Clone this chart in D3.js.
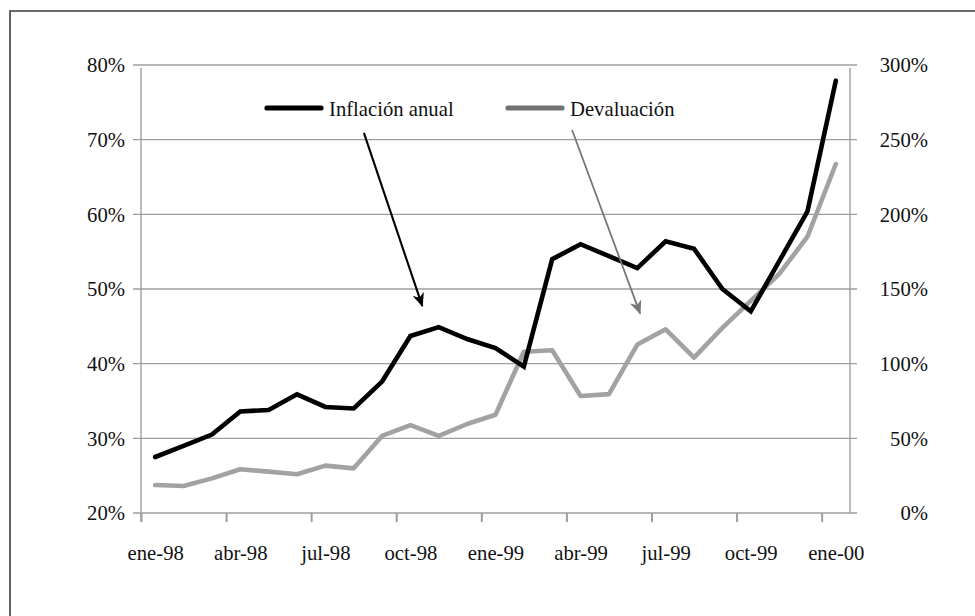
<!DOCTYPE html>
<html>
<head>
<meta charset="utf-8">
<script src="https://cdn.jsdelivr.net/npm/d3@7"></script>
<style>
  html, body { margin: 0; padding: 0; background: #fff; }
  svg { display: block; }
  text { font-family: "Liberation Serif", "Times New Roman", serif; fill: #111; }
</style>
</head>
<body>
<svg id="chart" width="975" height="616"></svg>
<script>
// ---- Data ----
const months = ["ene-98","feb-98","mar-98","abr-98","may-98","jun-98","jul-98","ago-98","sep-98","oct-98","nov-98","dic-98",
                "ene-99","feb-99","mar-99","abr-99","may-99","jun-99","jul-99","ago-99","sep-99","oct-99","nov-99","dic-99","ene-00"];
const inflacion = [27.5, 29.0, 30.5, 33.6, 33.8, 35.9, 34.2, 34.0, 37.6, 43.7, 44.9, 43.3, 42.1,
                   39.6, 54.0, 56.0, 54.4, 52.8, 56.4, 55.4, 50.0, 47.0, 53.7, 60.4, 77.9];
const devaluacion = [18.7, 18.1, 23.2, 29.3, 27.7, 25.9, 31.7, 29.9, 51.6, 58.9, 51.6, 59.6, 65.8,
                     108, 109, 78.4, 79.6, 112.8, 123, 104, 124, 142, 160, 185, 233.7];
const leftTicks = [20, 30, 40, 50, 60, 70, 80];
const rightTicks = [0, 50, 100, 150, 200, 250, 300];
const xLabelIdx = [0, 3, 6, 9, 12, 15, 18, 21, 24];
const seriesNames = ["Inflación anual", "Devaluación"];

// ---- Layout ----
const svg = d3.select("#chart");
const L = 141, R = 850, T = 65, B = 513;

const x = d3.scaleLinear().domain([0, months.length]).range([L, R]);
const yL = d3.scaleLinear().domain([20, 80]).range([B, T]);
const yR = d3.scaleLinear().domain([0, 300]).range([B, T]);

// frame
svg.append("path").attr("d", "M10,616 L10,11 L975,11")
  .attr("fill", "none").attr("stroke", "#3a3a3a").attr("stroke-width", 1.6);

const gridColor = "#9e9e9e";

// gridlines (with outer tick extension on both sides)
svg.append("g").selectAll("line").data(leftTicks).join("line")
  .attr("x1", L - 8).attr("x2", R + 7)
  .attr("y1", d => yL(d)).attr("y2", d => yL(d))
  .attr("stroke", gridColor).attr("stroke-width", 1.3);

// left axis line
svg.append("line").attr("x1", L).attr("x2", L).attr("y1", T + 3).attr("y2", B + 9)
  .attr("stroke", gridColor).attr("stroke-width", 1.4);
// right axis line
svg.append("line").attr("x1", R).attr("x2", R).attr("y1", T + 3).attr("y2", B)
  .attr("stroke", gridColor).attr("stroke-width", 1.4);

// left labels
const leftAxis = d3.axisLeft(yL).tickValues(leftTicks).tickSize(0).tickPadding(0)
  .tickFormat(d => d + "%");
const gL = svg.append("g").attr("transform", `translate(${L - 16},0)`).call(leftAxis);
gL.select(".domain").remove();
gL.selectAll("text").attr("font-size", "20.7px").attr("fill", "#111")
  .attr("font-family", "Liberation Serif").attr("dy", "0.33em");

// right labels
const rightAxis = d3.axisRight(yR).tickValues(rightTicks).tickSize(0).tickPadding(0)
  .tickFormat(d => d + "%");
const gR = svg.append("g").attr("transform", `translate(928,0)`).call(rightAxis);
gR.select(".domain").remove();
gR.selectAll("text").attr("font-size", "20.7px").attr("fill", "#111")
  .attr("font-family", "Liberation Serif").attr("text-anchor", "end").attr("dy", "0.33em");

// bottom axis ticks (at category boundaries)
const bottomTicks = d3.axisBottom(x).tickValues(xLabelIdx).tickSize(9).tickFormat("");
const gB = svg.append("g").attr("transform", `translate(0,${B})`).call(bottomTicks);
gB.select(".domain").remove();
gB.selectAll("line").attr("stroke", gridColor).attr("stroke-width", 2);

// bottom labels (at category centers)
const bottomLabels = d3.axisBottom(x).tickValues(xLabelIdx.map(i => i + 0.5)).tickSize(0).tickPadding(0)
  .tickFormat(d => months[Math.round(d - 0.5)]);
const gBL = svg.append("g").attr("transform", `translate(0,${B})`).call(bottomLabels);
gBL.select(".domain").remove();
gBL.selectAll("text").attr("font-size", "20.7px").attr("fill", "#111")
  .attr("font-family", "Liberation Serif").attr("dy", null).attr("y", 47);

// series lines
const lineL = d3.line().x((d, i) => x(i + 0.5)).y(d => yL(d));
const lineR = d3.line().x((d, i) => x(i + 0.5)).y(d => yR(d));

svg.append("path").datum(devaluacion).attr("d", lineR)
  .attr("fill", "none").attr("stroke", "#a2a2a2").attr("stroke-width", 4.6)
  .attr("stroke-linejoin", "round").attr("stroke-linecap", "round");
svg.append("path").datum(inflacion).attr("d", lineL)
  .attr("fill", "none").attr("stroke", "#000").attr("stroke-width", 4.6)
  .attr("stroke-linejoin", "miter").attr("stroke-linecap", "round");

// legend
const legend = [
  { name: seriesNames[0], color: "#000", x: 267 },
  { name: seriesNames[1], color: "#727272", x: 508 }
];
const lg = svg.append("g").selectAll("g").data(legend).join("g")
  .attr("transform", d => `translate(${d.x},108)`);
lg.append("line").attr("x1", 0).attr("x2", 54).attr("y1", 0).attr("y2", 0)
  .attr("stroke", d => d.color).attr("stroke-width", 5.2).attr("stroke-linecap", "round");
lg.append("text").attr("x", 62).attr("y", 7.5).attr("font-size", "20.7px").text(d => d.name);

// annotation arrows (in data units: category index, left-axis %)
const arrows = [
  { from: [7.86, 70.9], to: [9.92, 47.7], color: "#000", w: 2.1, id: "ahB" },
  { from: [15.2, 71.3], to: [17.6, 46.7], color: "#777", w: 1.8, id: "ahG" }
];
const defs = svg.append("defs");
arrows.forEach(a => {
  defs.append("marker").attr("id", a.id).attr("viewBox", "0 0 14 12")
    .attr("refX", 13).attr("refY", 6).attr("markerWidth", 14).attr("markerHeight", 12)
    .attr("markerUnits", "userSpaceOnUse").attr("orient", "auto")
    .append("path").attr("d", "M0,0 L14,6 L0,12 L4,6 Z").attr("fill", a.color);
});
svg.append("g").selectAll("line").data(arrows).join("line")
  .attr("x1", d => x(d.from[0])).attr("y1", d => yL(d.from[1]))
  .attr("x2", d => x(d.to[0])).attr("y2", d => yL(d.to[1]))
  .attr("stroke", d => d.color).attr("stroke-width", d => d.w)
  .attr("marker-end", d => `url(#${d.id})`);
</script>
</body>
</html>
